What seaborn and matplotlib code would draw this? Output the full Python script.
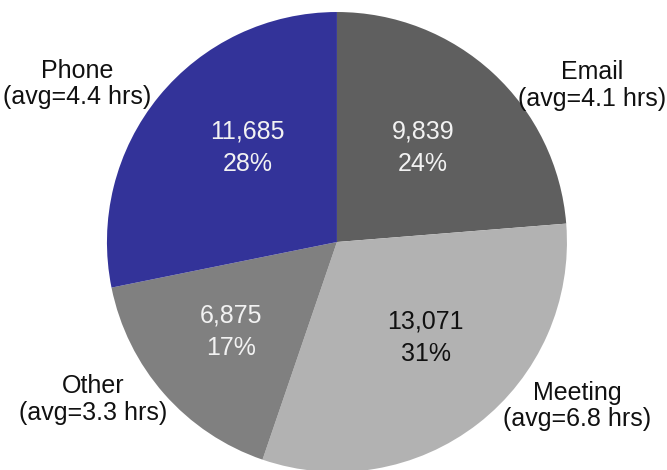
import matplotlib
matplotlib.use("Agg")
import matplotlib.pyplot as plt
import seaborn as sns

categories = ["Email", "Meeting", "Other", "Phone"]
counts = [9839, 13071, 6875, 11685]
percent_labels = [24, 31, 17, 28]
avg_hours = [4.1, 6.8, 3.3, 4.4]
colors = ["#5f5f5f", "#b2b2b2", "#808080", "#333399"]
inner_text_colors = ["#f2f2f2", "#111111", "#f2f2f2", "#f2f2f2"]

sns.set_theme(style="white")
plt.rcParams["font.family"] = ["Liberation Sans", "DejaVu Sans"]

fig = plt.figure(figsize=(6.67, 4.70), dpi=100)
ax = fig.add_axes([0, 0, 1, 1])

wedges, texts = ax.pie(
    counts, colors=colors, startangle=90, counterclock=False,
    radius=1.0, wedgeprops=dict(linewidth=0),
)

# inner value labels
inner_pos = {"Email": (0.373, 0.410), "Meeting": (0.385, -0.415),
             "Other": (-0.461, -0.390), "Phone": (-0.390, 0.410)}
for cat, cnt, pct, tc in zip(categories, counts, percent_labels, inner_text_colors):
    x, y = inner_pos[cat]
    ax.text(x, y, f"{cnt:,}\n{pct}%", ha="center", va="center",
            fontsize=18, color=tc, linespacing=1.43)

# outer labels
label_pos = {"Email": (1.108, 0.680), "Meeting": (1.043, -0.712),
             "Other": (-1.061, -0.685), "Phone": (-1.128, 0.687)}
for cat, avg in zip(categories, avg_hours):
    x, y = label_pos[cat]
    ax.text(x, y, f"{cat}\n(avg={avg} hrs)", ha="center", va="center",
            fontsize=18, color="#111111", linespacing=1.12)

ax.set_xlim(-1.465, 1.435)
ax.set_ylim(-0.991, 1.052)
ax.set_aspect("equal")
ax.axis("off")

fig.savefig("out.png", dpi=100, facecolor="white")
